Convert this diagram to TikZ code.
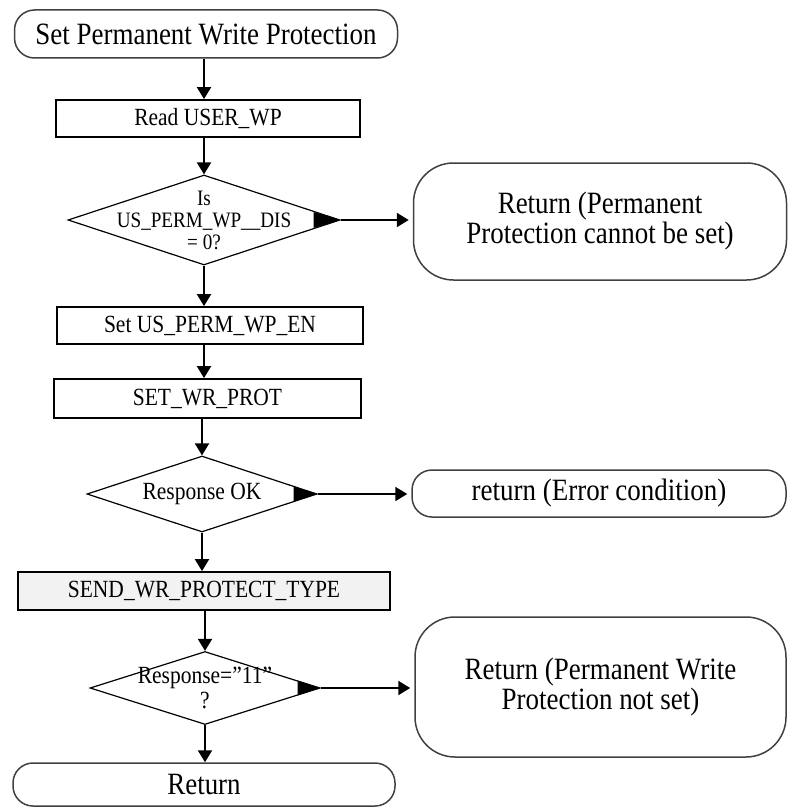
\documentclass[tikz,border=0pt]{standalone}
\usepackage{fontspec}
\setmainfont{Liberation Serif}[FakeStretch=0.87]
\usetikzlibrary{shapes.geometric,arrows.meta}
\begin{document}
\begin{tikzpicture}[x=1pt,y=-1pt,
  box/.style={draw=black,line width=1.8pt,minimum height=37pt,inner sep=0pt,
              font=\fontsize{24.7}{24}\selectfont},
  term/.style={draw=black!75,line width=1.5pt,inner sep=0pt,align=center,
               font=\fontsize{31}{30}\selectfont},
  dec/.style={draw=black,line width=1.2pt,shape=diamond,inner sep=0pt},
  dectext/.style={align=center,inner sep=0pt},
  arr/.style={line width=2pt,-{Triangle[length=12pt,width=14pt]}},
  side/.style={line width=2pt,-{Triangle[length=12pt,width=14pt]},shorten >=4pt}
]
\useasboundingbox (0,0) rectangle (788,808);

% main column
\node[term,rounded corners=20pt,minimum width=383pt,minimum height=48pt] (start) at (206,34)
  {Set Permanent Write Protection};
\node[box,minimum width=304pt] (read) at (208,118.5) {Read USER\_WP};
\node[dec,minimum width=272pt,minimum height=90pt,
  label={[dectext,font=\fontsize{22}{22}\selectfont]center:Is\\US\_PERM\_WP\_\_DIS\\= 0?}] (d1) at (204,220) {};
\node[box,minimum width=306pt] (seten) at (210,325.5) {Set US\_PERM\_WP\_EN};
\node[box,minimum width=307pt,minimum height=39pt] (setwr) at (207.5,398.5) {SET\_WR\_PROT};
\node[dec,minimum width=230pt,minimum height=76pt,
  label={[dectext,font=\fontsize{24.7}{24}\selectfont]center:Response OK}] (d2) at (202,494) {};
\node[box,minimum width=372pt,minimum height=38pt,fill=black!5] (send) at (204,591) {SEND\_WR\_PROTECT\_TYPE};
\node[dec,minimum width=230pt,minimum height=73pt,
  label={[dectext,font=\fontsize{24.7}{25}\selectfont]center:Response=”11”\\?}] (d3) at (205,688) {};
\node[term,rounded corners=20pt,minimum width=382pt,minimum height=43pt] (stop) at (204,784.5) {Return};

% exits on the right
\node[term,rounded corners=40pt,minimum width=373pt,minimum height=117pt] (r1) at (600,221.5)
  {Return (Permanent\\Protection cannot be set)};
\node[term,rounded corners=20pt,minimum width=374pt,minimum height=47pt] (r2) at (599,493.5)
  {return (Error condition)};
\node[term,rounded corners=40pt,minimum width=371pt,minimum height=140pt] (r3) at (600.5,687)
  {Return (Permanent Write\\Protection not set)};

% vertical flow
\draw[arr] (start.south -| d1.north) -- (read.north -| d1.north);
\draw[arr] (read.south -| d1.north) -- (d1.north);
\draw[arr] (d1.south) -- (seten.north -| d1.south);
\draw[arr] (seten.south -| d1.south) -- (setwr.north -| d1.south);
\draw[arr] (setwr.south -| d2.north) -- (d2.north);
\draw[arr] (d2.south) -- (send.north -| d2.south);
\draw[arr] (send.south -| d3.north) -- (d3.north);
\draw[arr] (d3.south) -- (stop.north -| d3.south);

% "yes" exits: a solid wedge in the right corner of each decision
\fill (d1.east) -- ++(-27,-8) -- ++(0,16) -- cycle;
\fill (d2.east) -- ++(-24,-7.5) -- ++(0,15) -- cycle;
\fill (d3.east) -- ++(-23,-7.5) -- ++(0,15) -- cycle;
\draw[side] (d1.east) -- (d1.east -| r1.west);
\draw[side] (d2.east) -- (d2.east -| r2.west);
\draw[side] (d3.east) -- (d3.east -| r3.west);
\end{tikzpicture}
\end{document}
